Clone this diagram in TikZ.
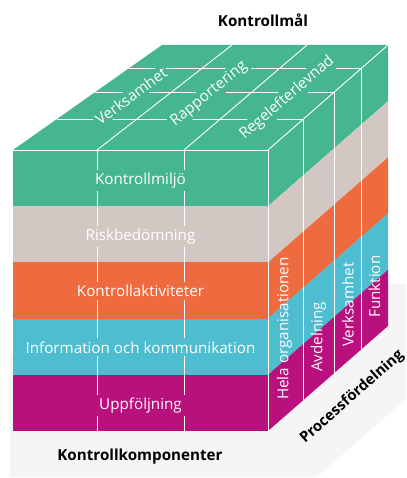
\documentclass[tikz,border=0pt]{standalone}
\usepackage{fontspec}
\setmainfont{Open Sans}
\usepackage{tikz}
\definecolor{miljo}{HTML}{45B68F}
\definecolor{risk}{HTML}{D2C7C2}
\definecolor{aktivitet}{HTML}{EE6B40}
\definecolor{info}{HTML}{4EBDCF}
\definecolor{uppfolj}{HTML}{B8107D}
\definecolor{golv}{HTML}{F5F5F5}
\usetikzlibrary{calc}

\begin{document}
\begin{tikzpicture}[x=1pt, y=-1pt,
    gridline/.style={draw=white, line width=0.9pt},
    facetext/.style={text=white, font=\fontsize{15.2}{18}\selectfont, inner sep=3pt},
    fronttext/.style={facetext, fill=#1, anchor=base},
    toptext/.style={facetext, fill=miljo, inner sep=2pt},
    sidetext/.style={facetext, rotate=90, anchor=west},
    rubrik/.style={font=\bfseries\fontsize{15.2}{18}\selectfont, text=black}
]
    \useasboundingbox (0,0) rectangle (406,478);

    % golv
    \fill[golv] (10,355) -- (10,477) -- (317,477) -- (406,399) -- (406,284) -- (91,284) -- cycle;

    % framsida
    \fill[miljo]     (13,150)   rectangle (268,206.2);
    \fill[risk]      (13,206.2) rectangle (268,262.4);
    \fill[aktivitet] (13,262.4) rectangle (268,318.6);
    \fill[info]      (13,318.6) rectangle (268,374.8);
    \fill[uppfolj]   (13,374.8) rectangle (268,431);

    % sida
    \fill[miljo]     (268,150)   -- (388,45)    -- (388,101.2) -- (268,206.2) -- cycle;
    \fill[risk]      (268,206.2) -- (388,101.2) -- (388,157.4) -- (268,262.4) -- cycle;
    \fill[aktivitet] (268,262.4) -- (388,157.4) -- (388,213.6) -- (268,318.6) -- cycle;
    \fill[info]      (268,318.6) -- (388,213.6) -- (388,269.8) -- (268,374.8) -- cycle;
    \fill[uppfolj]   (268,374.8) -- (388,269.8) -- (388,326)   -- (268,431)   -- cycle;

    % topp
    \fill[miljo] (13,150) -- (162,45) -- (388,45) -- (268,150) -- cycle;

    % linjer
    \draw[gridline] (13,150) -- (268,150) -- (268,431);
    \draw[gridline] (268,150) -- (388,45);
    \draw[gridline] (97,150) -- (232,45);
    \draw[gridline] (184,150) -- (307,45);
    \draw[gridline] (97,150) -- (97,431);
    \draw[gridline] (184,150) -- (184,431);
    \foreach \t in {0.295, 0.552, 0.781}
        \draw[gridline] ($(13,150)!\t!(162,45)$) -- ($(268,150)!\t!(388,45)$) -- ($(268,431)!\t!(388,326)$);

    % kontrollkomponenter
    \node[fronttext=miljo]     (kmiljo) at (140.5,184.5) {Kontrollmiljö};
    \node[fronttext=risk]      (krisk)  at (140.5,240.7) {Riskbedömning};
    \node[fronttext=aktivitet] (kakt)   at (140.5,296.9) {Kontrollaktiviteter};
    \node[fronttext=info]      (kinfo)  at (140.5,353.1) {Information och kommunikation};
    \node[fronttext=uppfolj]   (kupp)   at (140.5,409.3) {Uppföljning};

    % kontrollmål
    \node[toptext, rotate=36.5] (mverks) at (131,96) {Verksamhet};
    \node[toptext, rotate=39]   (mrapp)  at (209,94) {Rapportering};
    \node[toptext, rotate=40.8] (mregel) at (287,98) {Regelefterlevnad};

    % processfördelning
    \node[sidetext] (phela)  at (284.5,403) {Hela organisationen};
    \node[sidetext] (pavd)   at (318.5,375) {Avdelning};
    \node[sidetext] (pverks) at (348,350)   {Verksamhet};
    \node[sidetext] (pfunk)  at (374.5,321) {Funktion};

    % rubriker
    \node[rubrik] (tmal)  at (263,20)  {Kontrollmål};
    \node[rubrik] (tkomp) at (140,457) {Kontrollkomponenter};
    \node[rubrik, rotate=41.5, font=\bfseries\fontsize{14.8}{18}\selectfont] (tproc) at (352,397) {Processfördelning};
\end{tikzpicture}
\end{document}
